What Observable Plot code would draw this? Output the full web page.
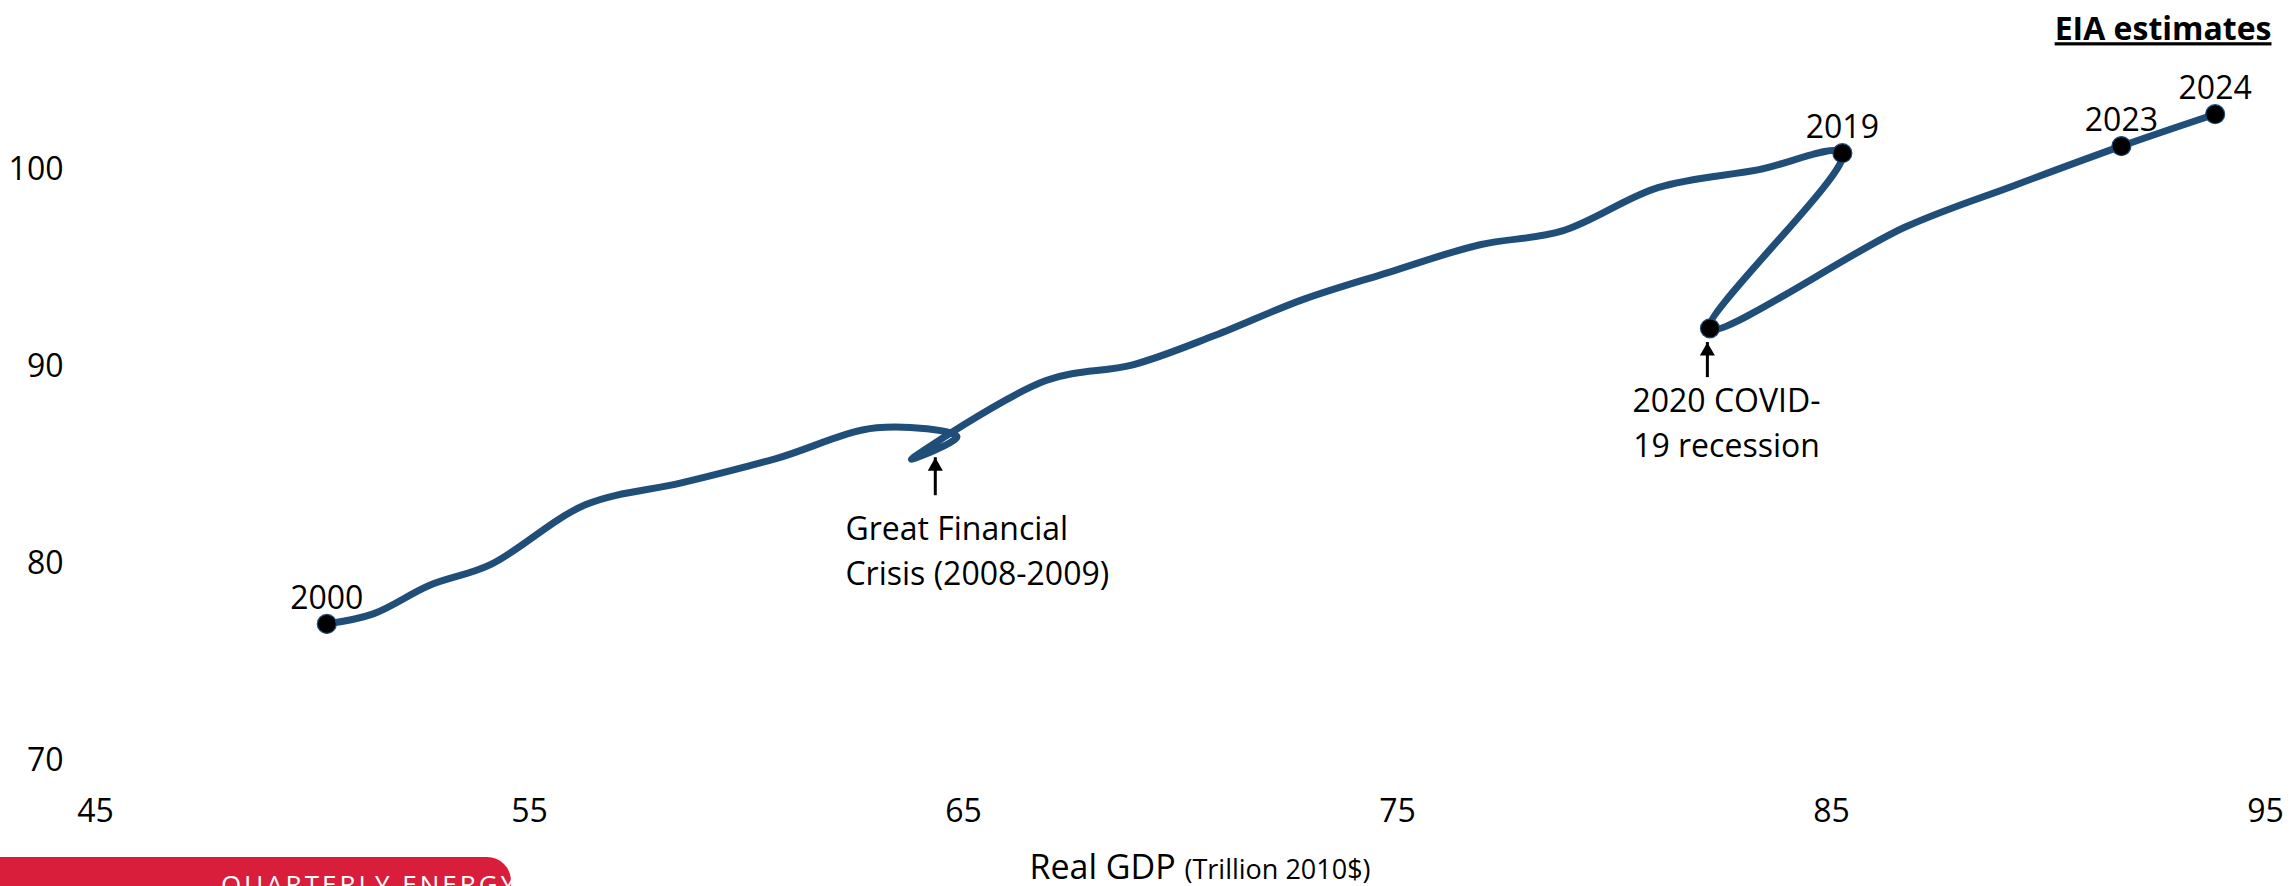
<!DOCTYPE html>
<html>
<head>
<meta charset="utf-8">
<script src="https://cdn.jsdelivr.net/npm/d3@7"></script>
<script src="https://cdn.jsdelivr.net/npm/@observablehq/plot@0.6"></script>
<style>
html, body { margin: 0; padding: 0; background: #fff; overflow: hidden; }
#chart { position: relative; width: 2292px; height: 886px; }
#logo { position: absolute; left: 0; top: 857px; width: 511px; height: 29px; background: #d81e3b; border-top-right-radius: 24px; overflow: hidden; }
#logo span { position: absolute; left: 221px; top: 14px; color: #fff; font: 26px/1 "Open Sans"; letter-spacing: 3px; white-space: nowrap; }
</style>
</head>
<body>
<div id="chart"><div id="logo"><span>QUARTERLY ENERGY</span></div></div>
<script>
// Years and values
const years = [2000, 2001, 2002, 2003, 2004, 2005, 2006, 2007, 2008, 2009, 2010, 2011, 2012, 2013, 2014, 2015, 2016, 2017, 2018, 2019, 2020, 2021, 2022, 2023, 2024];
const gdp   = [50.33, 51.4, 52.7, 54.1, 56.3, 58.5, 60.7, 63.0, 64.85, 63.8, 66.9, 68.9, 70.8, 72.8, 74.8, 76.9, 78.8, 81.0, 83.3, 85.25, 82.2, 86.7, 89.2, 91.68, 93.84];
const oil   = [76.94, 77.45, 78.9, 79.95, 83.0, 84.1, 85.35, 86.9, 86.45, 85.3, 89.3, 90.1, 91.6, 93.4, 94.8, 96.2, 96.9, 99.1, 100.0, 100.85, 91.95, 97.1, 99.2, 101.21, 102.83];

const dotYears = [2000, 2019, 2020, 2023, 2024];
const labelYears = [2000, 2019, 2023, 2024];

const xTicks = [45, 55, 65, 75, 85, 95];
const yTicks = [70, 80, 90, 100];

// Annotations
const gfcText = "Great Financial\nCrisis (2008-2009)";
const gfcX = 62.28, gfcY = 82.84;
const covidText = "2020 COVID-\n19 recession";
const covidX = 82.58, covidY = 89.35;
const arrowX = [64.35, 82.14];
const arrowTipY = [85.38, 91.23];
const arrowBaseY = [83.45, 89.45];

const titleText = "EIA estimates";
const xTitleMain = "Real GDP";
const xTitleUnit = "(Trillion 2010$)";

const series = years.map((yr, i) => ({year: yr, gdp: gdp[i], oil: oil[i]}));
const dots = series.filter(d => dotYears.includes(d.year));
const labels = series.filter(d => labelYears.includes(d.year));
const arrows = arrowX.map((x, i) => ({x, tip: arrowTipY[i], base: arrowBaseY[i]}));

const lineColor = "#1f4e79";

const chart = Plot.plot({
  width: 2292,
  height: 886,
  marginLeft: 95,
  marginRight: 27,
  marginTop: 71,
  marginBottom: 126,
  style: {fontFamily: "'Open Sans', sans-serif", fontSize: "32px", color: "#000", background: "#fff", overflow: "visible"},
  x: {domain: [45, 95], ticks: xTicks, tickSize: 0, tickPadding: 39, label: null},
  y: {domain: [70, 105], ticks: yTicks, tickSize: 0, tickPadding: 32, label: null},
  marks: [
    Plot.line(series, {x: "gdp", y: "oil", curve: "catmull-rom", stroke: lineColor, strokeWidth: 7, strokeLinecap: "round", strokeLinejoin: "round"}),
    Plot.dot(dots, {x: "gdp", y: "oil", r: 9.5, fill: "#000", stroke: lineColor, strokeWidth: 1.2}),
    Plot.text(labels, {x: "gdp", y: "oil", text: d => String(d.year), lineAnchor: "bottom", dy: -15, fontSize: 32, fill: "#000"}),
    Plot.ruleX(arrows, {x: "x", y1: "base", y2: "tip", stroke: "#000", strokeWidth: 3}),
    Plot.dot(arrows, {x: "x", y: "tip", symbol: "triangle", r: 5.6, dy: 8.6, fill: "#000", stroke: "none"}),
    Plot.text([gfcText], {x: gfcX, y: gfcY, textAnchor: "start", lineAnchor: "top", lineHeight: 1.42, fontSize: 32, fill: "#000"}),
    Plot.text([covidText], {x: covidX, y: covidY, textAnchor: "middle", lineAnchor: "top", lineHeight: 1.42, fontSize: 32, fill: "#000"}),
    Plot.text([titleText], {frameAnchor: "top-right", dx: 6, dy: -54, lineAnchor: "top", textAnchor: "end", fontSize: 32, fontWeight: "bold", fill: "#000"}),
    Plot.text([xTitleMain], {frameAnchor: "bottom", dx: 19.5, dy: 118, lineAnchor: "bottom", fontSize: 34, fill: "#000"})
  ]
});

const svg = d3.select(chart);
svg.selectAll("text").filter(function () { return this.textContent === titleText; })
  .style("text-decoration", "underline");
svg.selectAll("text").filter(function () { return this.textContent === xTitleMain; })
  .each(function () {
    const t = d3.select(this);
    t.text(null);
    t.append("tspan").text(xTitleMain + " ");
    t.append("tspan").attr("font-size", 27).text(xTitleUnit);
  });

document.getElementById("chart").prepend(chart);
</script>
</body>
</html>
